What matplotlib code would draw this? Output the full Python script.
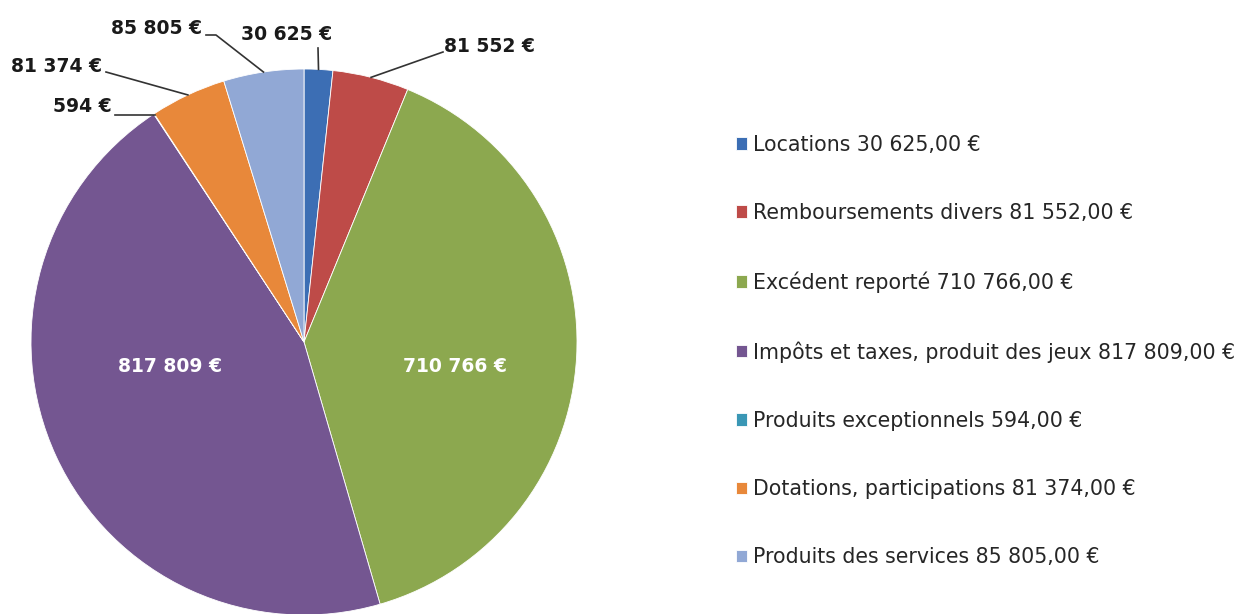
import numpy as np
import matplotlib.pyplot as plt

categories = ['Locations', 'Remboursements divers', 'Excédent reporté',
              'Impôts et taxes, produit des jeux', 'Produits exceptionnels',
              'Dotations, participations', 'Produits des services']
values = [30625, 81552, 710766, 817809, 594, 81374, 85805]
colors = ['#3C6EB4', '#BE4B48', '#8CA84F', '#745691', '#3A97B5', '#E8883A', '#91A8D5']


def eur(v, dec=False):
    s = f'{v:,.2f}' if dec else f'{v:,.0f}'
    s = s.replace(',', ' ').replace('.', ',')
    return s + ' €'


plt.rcParams['font.family'] = ['DejaVu Sans']

W, H = 1244, 614
fig = plt.figure(figsize=(W / 100, H / 100), dpi=100)
cx, cy, r = 304, 342, 273
ax = fig.add_axes([(cx - r) / W, (H - cy - r) / H, 2 * r / W, 2 * r / H])

wedges, _ = ax.pie(values, colors=colors, startangle=90, counterclock=False,
                   radius=1, wedgeprops=dict(linewidth=0.6, edgecolor='white'))
ax.set_xlim(-1, 1)
ax.set_ylim(-1, 1)
ax.axis('off')


def px(x, y):
    return ((x - cx) / r, (cy - y) / r)


def edge(i):
    w = wedges[i]
    a = np.deg2rad((w.theta1 + w.theta2) / 2)
    return np.cos(a), np.sin(a)


# white labels inside the two big slices
for i, (x, y) in zip([2, 3], [(455, 367), (170, 367)]):
    ax.text(*px(x, y), eur(values[i]), color='white', fontsize=13.5,
            fontweight='bold', ha='center', va='center')

# outside labels with leader lines: (index, text pos, align, line points)
outside = [
    (0, (287, 35), 'center', [(318, 48)]),
    (1, (490, 47), 'center', [(443, 52)]),
    (4, (112, 107), 'right', [(115, 115), (155, 115)]),
    (5, (102, 67), 'right', [(106, 72)]),
    (6, (202, 29), 'right', [(206, 35), (216, 35)]),
]
for i, tpos, ha, pts in outside:
    ax.text(*px(*tpos), eur(values[i]), fontsize=13.5, fontweight='bold',
            ha=ha, va='center', color='#1a1a1a', clip_on=False)
    line = [px(*p) for p in pts]
    if i != 4:
        line.append(edge(i))
    line = np.array(line)
    ax.plot(line[:, 0], line[:, 1], color='#333333', lw=1.2, clip_on=False)

labels = [f'{c} {eur(v, True)}' for c, v in zip(categories, values)]
fig.legend(wedges, labels, loc='center left', frameon=False,
           bbox_to_anchor=(717 / W, 1 - 351 / H), fontsize=14.8,
           handlelength=0.55, handleheight=0.55, handletextpad=0.3,
           labelspacing=2.35, labelcolor='#262626')

fig.savefig('out.png', dpi=100)
